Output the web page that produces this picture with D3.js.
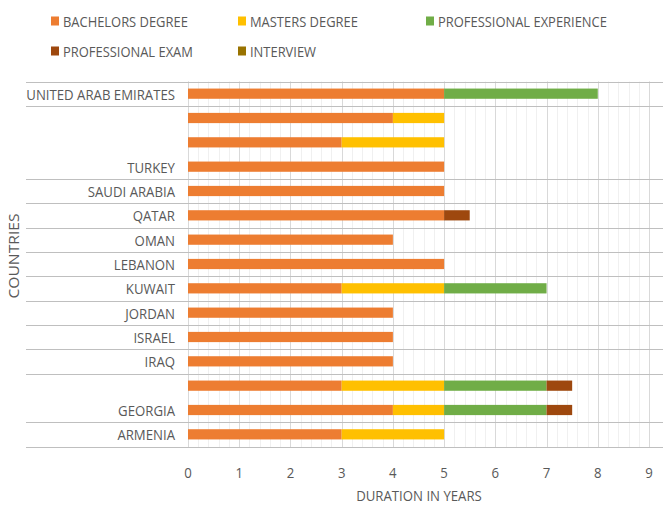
<!DOCTYPE html>
<html>
<head>
<meta charset="utf-8">
<script src="https://cdn.jsdelivr.net/npm/d3@7"></script>
<style>
  html, body { margin: 0; padding: 0; background: #ffffff; }
  svg text { font-family: "Open Sans", sans-serif; fill: #595959; }
</style>
</head>
<body>
<svg id="chart" width="663" height="505"></svg>
<script>
// Rows, top to bottom; a country name repeated means several bars in one group
const countries = ["UNITED ARAB EMIRATES","TURKEY","TURKEY","TURKEY","SAUDI ARABIA","QATAR","OMAN","LEBANON","KUWAIT","JORDAN","ISRAEL","IRAQ","GEORGIA","GEORGIA","ARMENIA"];
const bachelors  = [5, 4, 3, 5, 5, 5,   4, 5, 3, 4, 4, 4, 3,   4,   3];
const masters    = [0, 1, 2, 0, 0, 0,   0, 0, 2, 0, 0, 0, 2,   1,   2];
const experience = [3, 0, 0, 0, 0, 0,   0, 0, 2, 0, 0, 0, 2,   2,   0];
const exam       = [0, 0, 0, 0, 0, 0.5, 0, 0, 0, 0, 0, 0, 0.5, 0.5, 0];
const interview  = [0, 0, 0, 0, 0, 0,   0, 0, 0, 0, 0, 0, 0,   0,   0];
const seriesNames = ["BACHELORS DEGREE","MASTERS DEGREE","PROFESSIONAL EXPERIENCE","PROFESSIONAL EXAM","INTERVIEW"];
const seriesColors = ["#ED7D31","#FFC000","#70AD47","#9E480E","#997300"];
const xTicks = [0,1,2,3,4,5,6,7,8,9];
const xTitle = "DURATION IN YEARS";
const yTitle = "COUNTRIES";

const svg = d3.select("#chart");
const W = 663, H = 505;
const SX = 0.88; // horizontal condensing of the text
const plotTop = 81.5, plotBottom = 446.5;
const x = d3.scaleLinear().domain([0, 9]).range([188, 649]);
const rows = d3.range(countries.length);
const y = d3.scaleBand().domain(rows).range([plotTop, plotBottom]).paddingInner(0.58).paddingOuter(0.29);

// minor gridlines
const minor = x.ticks(45);
svg.append("g").selectAll("line").data(minor).join("line")
  .attr("x1", d => Math.round(x(d)) + 0.5).attr("x2", d => Math.round(x(d)) + 0.5)
  .attr("y1", plotTop).attr("y2", plotBottom + 1)
  .attr("stroke", "#f0f0f0").attr("stroke-width", 1);
// major gridlines
svg.append("g").selectAll("line").data(xTicks).join("line")
  .attr("x1", d => Math.round(x(d)) + 0.5).attr("x2", d => Math.round(x(d)) + 0.5)
  .attr("y1", plotTop).attr("y2", plotBottom + 1)
  .attr("stroke", "#d9d9d9").attr("stroke-width", 1);

// group separators
const rowTop = i => plotTop + (plotBottom - plotTop) * i / countries.length;
const lastInGroup = rows.filter(i => i === countries.length - 1 || countries[i] !== countries[i + 1]);
const seps = [0].concat(lastInGroup.map(i => i + 1));
svg.append("g").selectAll("line").data(seps).join("line")
  .attr("x1", 26).attr("x2", W)
  .attr("y1", d => Math.round(rowTop(d)) + 0.5).attr("y2", d => Math.round(rowTop(d)) + 0.5)
  .attr("stroke", "#bfbfbf").attr("stroke-width", 1);

// stacked bars
const table = rows.map(i => ({ i, s0: bachelors[i], s1: masters[i], s2: experience[i], s3: exam[i], s4: interview[i] }));
const stack = d3.stack().keys(["s0","s1","s2","s3","s4"])(table);
svg.append("g").selectAll("g").data(stack).join("g")
  .attr("fill", (d, k) => seriesColors[k])
  .selectAll("rect").data(d => d.filter(p => p[1] - p[0] > 0)).join("rect")
  .attr("x", p => x(p[0])).attr("width", p => x(p[1]) - x(p[0]))
  .attr("y", p => y(p.data.i)).attr("height", y.bandwidth());

// category labels (on bottom row of each group)
svg.append("g").selectAll("text").data(lastInGroup).join("text")
  .attr("transform", i => `translate(175,${y(i) + y.bandwidth() / 2}) scale(${SX},1)`)
  .attr("text-anchor", "end").attr("dominant-baseline", "central")
  .attr("font-size", 15).text(i => countries[i]);

// x tick labels
svg.append("g").selectAll("text").data(xTicks).join("text")
  .attr("transform", d => `translate(${x(d)},472) scale(${SX},1)`)
  .attr("text-anchor", "middle").attr("dominant-baseline", "central")
  .attr("font-size", 15).text(d => d);

svg.append("text").attr("transform", `translate(419,495) scale(${SX},1)`).attr("text-anchor", "middle")
  .attr("dominant-baseline", "central").attr("font-size", 15).text(xTitle);
svg.append("text").attr("transform", "translate(13,256) rotate(-90)").attr("text-anchor", "middle")
  .attr("dominant-baseline", "central").attr("font-size", 14).attr("textLength", 85)
  .attr("lengthAdjust", "spacingAndGlyphs").text(yTitle);

// legend
const legendPos = [[51,21],[238,21],[426,21],[51,51],[238,51]];
const lg = svg.append("g").selectAll("g").data(seriesNames).join("g")
  .attr("transform", (d, k) => `translate(${legendPos[k][0]},${legendPos[k][1]})`);
lg.append("rect").attr("x", 0).attr("y", -4.5).attr("width", 8).attr("height", 9).attr("fill", (d, k) => seriesColors[k]);
lg.append("text").attr("transform", `translate(12,0) scale(${SX},1)`).attr("dominant-baseline", "central")
  .attr("font-size", 14.7).text(d => d);
</script>
</body>
</html>
